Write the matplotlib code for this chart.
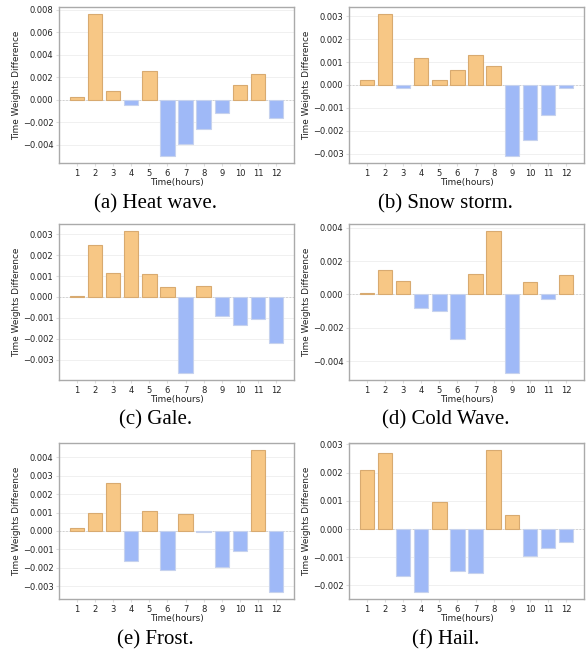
import numpy as np
import matplotlib.pyplot as plt
from matplotlib.ticker import MultipleLocator

hours = np.arange(1, 13)

heat_wave = [0.0002, 0.0076, 0.0008, -0.0005, 0.0025, -0.0050, -0.0039, -0.0026, -0.0012, 0.0013, 0.0023, -0.0016]
snow_storm = [0.00023, 0.0031, -0.00013, 0.0012, 0.00023, 0.00066, 0.0013, 0.00083, -0.0031, -0.0024, -0.0013, -0.00015]
gale = [0.00005, 0.0025, 0.00116, 0.00316, 0.0011, 0.0005, -0.00364, 0.00053, -0.0009, -0.00134, -0.00105, -0.0022]
cold_wave = [0.00008, 0.00146, 0.0008, -0.00078, -0.001, -0.00266, 0.0012, 0.0038, -0.0047, 0.00074, -0.00028, 0.00116]
frost = [0.00016, 0.00095, 0.00263, -0.00166, 0.00106, -0.00214, 0.0009, -0.00004, -0.00195, -0.0011, 0.0044, -0.00332]
hail = [0.0021, 0.0027, -0.00166, -0.00223, 0.00097, -0.00149, -0.00156, 0.0028, 0.0005, -0.00096, -0.00068, -0.00047]

captions = ["(a) Heat wave.", "(b) Snow storm.", "(c) Gale.",
            "(d) Cold Wave.", "(e) Frost.", "(f) Hail."]
series = [heat_wave, snow_storm, gale, cold_wave, frost, hail]
steps = [0.002, 0.001, 0.001, 0.002, 0.001, 0.001]

pos_color = '#F7C785'
neg_color = '#9FB9F7'

W, H = 586, 656
fig = plt.figure(figsize=(W / 100, H / 100), dpi=100)

lefts = [59, 349]
tops = [7, 224, 443]
ax_w, ax_h = 235, 156
cap_y = [204, 420, 640]

def fmt(v, p):
    return ('%.3f' % v).replace('-', '\u2212')

for i, (vals, cap, step) in enumerate(zip(series, captions, steps)):
    r, c = divmod(i, 2)
    ax = fig.add_axes([lefts[c] / W, 1 - (tops[r] + ax_h) / H, ax_w / W, ax_h / H])
    vals = np.array(vals)
    colors = [pos_color if v >= 0 else neg_color for v in vals]
    edges = ['#D8AA70' if v >= 0 else '#C6D2EE' for v in vals]
    ax.bar(hours, vals, width=0.8, color=colors, edgecolor=edges, linewidth=0.8, zorder=3)
    ax.axhline(0, color='#cccccc', ls=(0, (2, 2)), lw=0.6, zorder=2)
    ax.yaxis.grid(True, color='#eeeeee', lw=0.6, zorder=0)
    ax.yaxis.set_major_locator(MultipleLocator(step))
    ax.yaxis.set_major_formatter(plt.FuncFormatter(fmt))
    ax.set_xticks(hours)
    ax.tick_params(axis='both', labelsize=6.0, length=2, color='#dddddd', pad=2, labelcolor='#222222')
    for s in ax.spines.values():
        s.set_color('#aaaaaa')
        s.set_linewidth(1.0)
    ax.set_xlabel('Time(hours)', fontsize=6.4, labelpad=0.5, color='#222222')
    ax.set_ylabel('Time Weights Difference', fontsize=6.4, labelpad=1, color='#222222')
    cx = (lefts[c] + ax_w / 2 - 21) / W
    fig.text(cx, 1 - cap_y[r] / H, cap, ha='center', va='center',
             fontsize=15, family='Liberation Serif')

fig.savefig('out.png', dpi=100)
